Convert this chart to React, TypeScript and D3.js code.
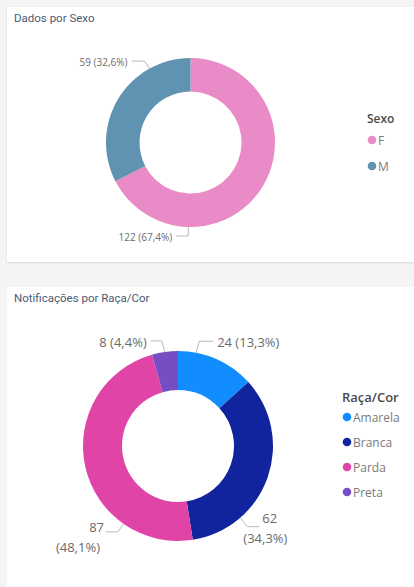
import React from 'react'
import * as d3 from 'd3'

// chart data
const sexoCategories = ['F', 'M']
const sexoValues = [122, 59]
const sexoColors = ['#E98BC6', '#5F93B1']

const racaCategories = ['Amarela', 'Branca', 'Parda', 'Preta']
const racaValues = [24, 62, 87, 8]
const racaColors = ['#118DFF', '#12239E', '#E044A7', '#744EC2']

const W = 414
const H = 587
const FONT = "'Open Sans', 'Noto Sans', sans-serif"
const TITLE_FONT = "Roboto, 'Noto Sans', sans-serif"

const fmtPct = (v: number, total: number) =>
  (v / total * 100).toFixed(1).replace('.', ',') + '%'

// leader layout: angle on the ring (deg, clockwise from top), elbow offset, horizontal run,
// then text lines placed relative to the end of the run
type Leader = {
  angle: number
  elbow: [number, number]
  run: number
  anchor: 'start' | 'end'
  lines: { dx: number; dy: number; part: 'all' | 'value' | 'pct' }[]
}

function Donut(props: {
  cx: number; cy: number; outer: number; inner: number
  categories: string[]; values: number[]; colors: string[]
  leaders: Leader[]; fontSize: number
}) {
  const { cx, cy, outer, inner, categories, values, colors, leaders, fontSize } = props
  const total = d3.sum(values)
  const pie = d3.pie<number>().sort(null).value(d => d)
  const arcs = pie(values)
  const arc = d3.arc<d3.PieArcDatum<number>>().innerRadius(inner).outerRadius(outer)

  return (
    <g>
      <g transform={`translate(${cx},${cy})`}>
        {arcs.map((a, i) => (
          <path key={categories[i]} d={arc(a) || ''} fill={colors[i]} />
        ))}
      </g>
      {arcs.map((a, i) => {
        const l = leaders[i]
        const rad = (l.angle * Math.PI) / 180
        const sx = cx + outer * Math.sin(rad)
        const sy = cy - outer * Math.cos(rad)
        const ex = sx + l.elbow[0]
        const ey = sy + l.elbow[1]
        const tx = ex + l.run
        const v = values[i]
        const pct = fmtPct(v, total)
        return (
          <g key={'lab' + i}>
            <polyline
              points={`${sx},${sy} ${ex},${ey} ${tx},${ey}`}
              fill="none" stroke="#b8b8b8" strokeWidth={1}
            />
            {l.lines.map((ln, j) => (
              <text
                key={j}
                x={tx + ln.dx}
                y={ey + ln.dy}
                textAnchor={l.anchor}
                dominantBaseline="central"
                fontFamily={FONT}
                fontSize={fontSize}
                fill="#6b6b6b"
              >
                {ln.part === 'all' ? `${v} (${pct})` : ln.part === 'value' ? `${v}` : `(${pct})`}
              </text>
            ))}
          </g>
        )
      })}
    </g>
  )
}

function Legend(props: {
  x: number; y: number; title: string; categories: string[]; colors: string[]
  step: number; titleSize: number; itemSize: number; itemGap: number
}) {
  const { x, y, title, categories, colors, step, titleSize, itemSize, itemGap } = props
  return (
    <g>
      <text x={x} y={y} dominantBaseline="central" fontFamily={FONT}
        fontSize={titleSize} fontWeight={600} fill="#4a4a4a">{title}</text>
      {categories.map((c, i) => (
        <g key={c}>
          <circle cx={x + 5} cy={y + itemGap + i * step} r={4.3} fill={colors[i]} />
          <text x={x + 11} y={y + itemGap + i * step} dominantBaseline="central"
            fontFamily={FONT} fontSize={itemSize} fill="#7a7a7a">{c}</text>
        </g>
      ))}
    </g>
  )
}

export default function App() {
  const sexoLeaders: Leader[] = [
    { angle: 181.5, elbow: [0, 9], run: -12, anchor: 'end', lines: [{ dx: -4, dy: 1, part: 'all' }] },
    { angle: 331, elbow: [-5, -7.5], run: -13, anchor: 'end', lines: [{ dx: -4, dy: 1, part: 'all' }] },
  ]
  const racaLeaders: Leader[] = [
    { angle: 11, elbow: [3, -11.5], run: 14, anchor: 'start', lines: [{ dx: 4, dy: 1, part: 'all' }] },
    {
      angle: 139, elbow: [7, 9], run: 12, anchor: 'start',
      lines: [{ dx: 3, dy: -9, part: 'value' }, { dx: -16, dy: 11, part: 'pct' }],
    },
    {
      angle: 215, elbow: [-5.5, 8], run: -12, anchor: 'end',
      lines: [{ dx: -2, dy: -5, part: 'value' }, { dx: -6, dy: 15, part: 'pct' }],
    },
    { angle: 352, elbow: [-3, -11], run: -11, anchor: 'end', lines: [{ dx: -4, dy: 1, part: 'all' }] },
  ]

  return (
    <div style={{ position: 'absolute', left: 0, top: 0 }}>
      <svg width={W} height={H} style={{ display: 'block' }}>
        <defs>
          <filter id="shadow" x="-5%" y="-5%" width="110%" height="110%">
            <feDropShadow dx="0" dy="1" stdDeviation="1.2" floodColor="#000" floodOpacity="0.12" />
          </filter>
        </defs>
        <rect x={0} y={0} width={W} height={H} fill="#f4f4f4" />
        <rect x={7} y={7} width={W - 7} height={255} fill="#ffffff" filter="url(#shadow)" />
        <rect x={7} y={287} width={W - 7} height={H - 287} fill="#ffffff" />

        <text x={14} y={18} dominantBaseline="central" fontFamily={TITLE_FONT}
          fontSize={11.5} fontWeight={400} fill="#4b5a74">Dados por Sexo</text>
        <Donut cx={190.5} cy={142.5} outer={84.5} inner={51}
          categories={sexoCategories} values={sexoValues} colors={sexoColors}
          leaders={sexoLeaders} fontSize={10} />
        <Legend x={367} y={118} title="Sexo" categories={sexoCategories} colors={sexoColors}
          step={26} titleSize={12} itemSize={12} itemGap={22} />

        <text x={14} y={298} dominantBaseline="central" fontFamily={TITLE_FONT}
          fontSize={11.5} fontWeight={400} fill="#4b5a74">Notificações por Raça/Cor</text>
        <Donut cx={178} cy={446} outer={95} inner={56}
          categories={racaCategories} values={racaValues} colors={racaColors}
          leaders={racaLeaders} fontSize={13} />
        <Legend x={342} y={397} title="Raça/Cor" categories={racaCategories} colors={racaColors}
          step={25} titleSize={13} itemSize={12} itemGap={20} />
      </svg>
    </div>
  )
}
